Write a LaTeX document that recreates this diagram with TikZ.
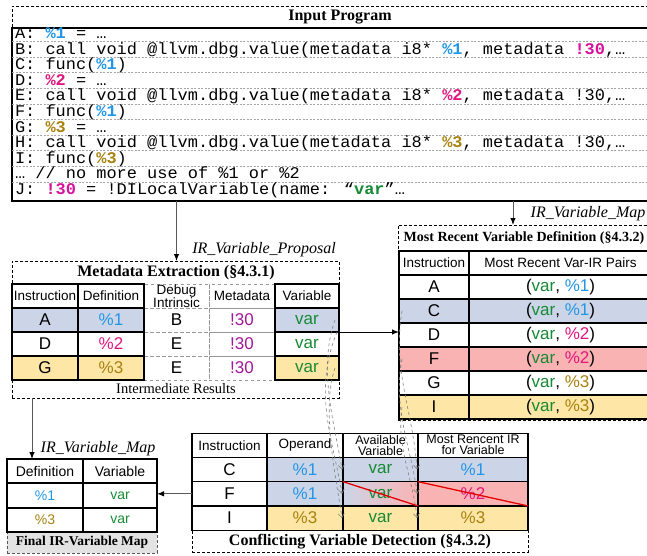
\documentclass[tikz,border=0pt]{standalone}
\usepackage{fontspec}
\setmainfont{Liberation Serif}
\setsansfont{Liberation Sans}
\newfontfamily\codefont[FakeStretch=1.04]{Liberation Mono}
\usetikzlibrary{arrows.meta}

\definecolor{defone}{HTML}{2196E6}
\definecolor{deftwo}{HTML}{E2167F}
\definecolor{defthree}{HTML}{A8820E}
\definecolor{mdpurple}{HTML}{A6159C}
\definecolor{mdpink}{HTML}{D4129C}
\definecolor{vargreen}{HTML}{168A34}
\definecolor{rowblue}{HTML}{CBD5E7}
\definecolor{rowyellow}{HTML}{FEE6A7}
\definecolor{rowred}{HTML}{FAB3B3}

\newcommand{\pone}{\textcolor{defone}{\%1}}
\newcommand{\ptwo}{\textcolor{deftwo}{\%2}}
\newcommand{\pthree}{\textcolor{defthree}{\%3}}
\newcommand{\mdref}{\textcolor{mdpurple}{!30}}
\newcommand{\varword}{\textcolor{vargreen}{var}}
\newcommand{\cone}{\textcolor{defone}{\textbf{\%1}}}
\newcommand{\ctwo}{\textcolor{deftwo}{\textbf{\%2}}}
\newcommand{\cthree}{\textcolor{defthree}{\textbf{\%3}}}
\newcommand{\cmdref}{\textcolor{mdpink}{\textbf{!30}}}

\begin{document}
\begin{tikzpicture}[x=1pt, y=-1pt,
  every node/.style={inner sep=0pt, outer sep=0pt},
  cell/.style={draw, line width=1.1pt, minimum height=24, font=\sffamily\fontsize{17}{17}\selectfont},
  headcell/.style={cell, font=\sffamily\fontsize{13.5}{10.5}\selectfont, align=center},
  twohead/.style={cell, font=\sffamily\fontsize{12.5}{11}\selectfont, align=center},
  dashcell/.style={draw=gray!80, dashed, line width=0.6pt, minimum height=24, font=\sffamily\fontsize{17}{17}\selectfont, align=center},
  smallcell/.style={cell, font=\sffamily\fontsize{14}{14}\selectfont},
  groupbox/.style={draw, line width=0.9pt, dash pattern=on 3pt off 2pt},
  boxtitle/.style={font=\bfseries\fontsize{16}{16}\selectfont},
  flowlabel/.style={font=\itshape\fontsize{16}{16}\selectfont},
  codeline/.style={anchor=base west, font=\codefont\fontsize{16.3}{16.3}\selectfont},
  sepline/.style={draw=gray!70, line width=0.5pt, dash pattern=on 2pt off 1.5pt},
  flow/.style={draw=black!65, line width=1pt, -{Latex[length=7pt,width=5.5pt,color=black]}},
  trace/.style={draw=gray, dashed, line width=0.6pt, -{Straight Barb[length=4pt,width=6pt]}},
  conflict/.style={draw=red!90!black, line width=1.3pt}]
\useasboundingbox (0,0) rectangle (647,556);

% input program
\node[groupbox, minimum width=656, minimum height=195, anchor=north west] (in-box) at (12,6) {};
\node[draw, line width=1.1pt, minimum width=656, minimum height=173, anchor=north west] (codebox) at (12,28) {};
\node[boxtitle] (in-title) at (340,17) {Input Program};
\foreach \k in {0,...,9}
  \draw[sepline] (12,41.5+15.6*\k) -- (668,41.5+15.6*\k);
\node[codeline] (ln-a) at (15,38.5) {A: \cone{} = …};
\node[codeline] (ln-b) at (15,54.1) {B: call void @llvm.dbg.value(metadata i8* \cone, metadata \cmdref,…};
\node[codeline] (ln-c) at (15,69.7) {C: func(\cone)};
\node[codeline] (ln-d) at (15,85.3) {D: \ctwo{} = …};
\node[codeline] (ln-e) at (15,100.9) {E: call void @llvm.dbg.value(metadata i8* \ctwo, metadata !30,…};
\node[codeline] (ln-f) at (15,116.5) {F: func(\cone)};
\node[codeline] (ln-g) at (15,132.1) {G: \cthree{} = …};
\node[codeline] (ln-h) at (15,147.7) {H: call void @llvm.dbg.value(metadata i8* \cthree, metadata !30,…};
\node[codeline] (ln-i) at (15,163.3) {I: func(\cthree)};
\node[codeline] (ln-x) at (15,178.9) {… // no more use of \%1 or \%2};
\node[codeline] (ln-j) at (15,194.5) {J: \cmdref{} = !DILocalVariable(name: “\textcolor{vargreen}{\textbf{var}}”…};

% metadata extraction
\node[groupbox, minimum width=327, minimum height=137, anchor=north west] (me-box) at (12,261) {};
\node[boxtitle] (me-title) at (176,273) {Metadata Extraction (§4.3.1)};
\node[dashcell, font=\sffamily\fontsize{13.5}{10}\selectfont, minimum width=65] (me-h3) at (176.5,296) {Debug\\Intrinsic};
\node[dashcell, font=\sffamily\fontsize{13.5}{10.5}\selectfont, minimum width=66] (me-h4) at (242,296) {Metadata};
\node[headcell, minimum width=66] (me-h1) at (45,296) {Instruction};
\node[headcell, minimum width=66] (me-h2) at (111,296) {Definition};
\node[headcell, minimum width=64] (me-h5) at (307,296) {Variable};
\foreach \r/\yy/\ins/\dfn/\dbg/\fc in {1/320/A/\pone/B/rowblue, 2/344/D/\ptwo/E/white, 3/368/G/\pthree/E/rowyellow} {
  \node[dashcell, minimum width=65] (me-dbg-\r) at (176.5,\yy) {\dbg};
  \node[dashcell, minimum width=66] (me-md-\r) at (242,\yy) {\mdref};
  \node[cell, fill=\fc, minimum width=66] (me-ins-\r) at (45,\yy) {\ins};
  \node[cell, fill=\fc, minimum width=66] (me-def-\r) at (111,\yy) {\dfn};
  \node[cell, fill=\fc, minimum width=64] (me-var-\r) at (307,\yy) {\varword};
}
\node[font=\fontsize{14.5}{14.5}\selectfont] (me-note) at (176,389) {Intermediate Results};

% most recent variable definition
\node[groupbox, minimum width=262, minimum height=195, anchor=north west] (mr-box) at (398,225) {};
\node[font=\bfseries\fontsize{14}{14}\selectfont] (mr-title) at (524,238) {Most Recent Variable Definition (§4.3.2)};
\node[headcell, minimum width=70] (mr-h1) at (434,263) {Instruction};
\node[headcell, minimum width=183] (mr-h2) at (560.5,263) {Most Recent Var-IR Pairs};
\foreach \r/\yy/\ins/\dfn/\fc in {1/287/A/\pone/white, 2/311/C/\pone/rowblue, 3/335/D/\ptwo/white, 4/359/F/\ptwo/rowred, 5/383/G/\pthree/white, 6/407/I/\pthree/rowyellow} {
  \node[cell, fill=\fc, minimum width=70] (mr-ins-\r) at (434,\yy) {\ins};
  \node[cell, fill=\fc, minimum width=183] (mr-pair-\r) at (560.5,\yy) {(\varword, \dfn)};
}

% conflicting variable detection
\node[groupbox, boxtitle, minimum width=336, minimum height=22] (cv-box) at (360,541.2) {Conflicting Variable Detection (§4.3.2)};
\node[headcell, minimum width=75, minimum height=24.3] (cv-h1) at (229.5,445.2) {Instruction};
\node[headcell, minimum width=76, minimum height=24.3] (cv-h2) at (305,445.2) {Operand};
\node[twohead, minimum width=75, minimum height=24.3] (cv-h3) at (380.5,445.2) {Available\\Variable};
\node[twohead, minimum width=110, minimum height=24.3] (cv-h4) at (473,445.2) {Most Rencent IR\\for Variable};
\node[cell, minimum width=75, minimum height=24.3] (cv-ins-1) at (229.5,469.5) {C};
\node[cell, fill=rowblue, minimum width=76, minimum height=24.3] (cv-op-1) at (305,469.5) {\pone};
\node[cell, fill=rowblue, minimum width=75, minimum height=24.3] (cv-av-1) at (380.5,469.5) {\varword};
\node[cell, fill=rowblue, minimum width=110, minimum height=24.3] (cv-mr-1) at (473,469.5) {\pone};
\node[cell, minimum width=75, minimum height=24.3] (cv-ins-2) at (229.5,493.8) {F};
\node[cell, fill=rowblue, minimum width=76, minimum height=24.3] (cv-op-2) at (305,493.8) {\pone};
\node[cell, left color=rowblue, right color=rowred, minimum width=75, minimum height=24.3] (cv-av-2) at (380.5,493.8) {\varword};
\node[cell, fill=rowred, minimum width=110, minimum height=24.3] (cv-mr-2) at (473,493.8) {\ptwo};
\node[cell, minimum width=75, minimum height=24.3] (cv-ins-3) at (229.5,518.1) {I};
\node[cell, fill=rowyellow, minimum width=76, minimum height=24.3] (cv-op-3) at (305,518.1) {\pthree};
\node[cell, fill=rowyellow, minimum width=75, minimum height=24.3] (cv-av-3) at (380.5,518.1) {\varword};
\node[cell, fill=rowyellow, minimum width=110, minimum height=24.3] (cv-mr-3) at (473,518.1) {\pthree};
\draw[conflict] (cv-av-2.north west) -- (cv-av-2.south east);
\draw[conflict] (cv-mr-2.north west) -- (cv-mr-2.south east);

% final map
\node[groupbox, draw=gray!70!black, fill=gray!22, font=\bfseries\fontsize{13.5}{13.5}\selectfont, minimum width=150, minimum height=21] (fm-cap) at (82,542.5) {Final IR-Variable Map};
\node[smallcell, minimum width=76] (fm-h1) at (45,471) {Definition};
\node[smallcell, minimum width=74] (fm-h2) at (120,471) {Variable};
\node[smallcell, minimum width=76, minimum height=25] (fm-def-1) at (45,495.5) {\pone};
\node[smallcell, minimum width=74, minimum height=25] (fm-var-1) at (120,495.5) {\varword};
\node[smallcell, minimum width=76] (fm-def-2) at (45,520) {\pthree};
\node[smallcell, minimum width=74] (fm-var-2) at (120,520) {\varword};

% flows
\coordinate (maptap) at ([xshift=115]mr-box.north west);
\coordinate (finaltap) at ([xshift=-13]fm-h1.north);
\draw[flow] (codebox.south -| me-h3.north) -- (me-box.north -| me-h3.north);
\draw[flow] (codebox.south -| maptap) -- (maptap);
\draw[flow, draw=black] (me-var-2.north east) -- (me-var-2.north east -| mr-ins-3.west);
\draw[flow] (me-box.south -| finaltap) -- (finaltap);
\draw[flow] (cv-ins-2.west) -- (cv-ins-2.west -| fm-h2.east);
\node[flowlabel] (lbl-prop) at (264,250) {IR\_Variable\_Proposal};
\node[flowlabel] (lbl-map) at (588,214) {IR\_Variable\_Map};
\node[flowlabel] (lbl-final) at (98,449) {IR\_Variable\_Map};

% traces into the detection table
\draw[trace] ([xshift=-4]me-var-1.east) .. controls +(-18,50) and +(-6,-40) .. ([xshift=-1]cv-av-1.west);
\draw[trace] ([xshift=-2]me-var-1.south east) .. controls +(-25,60) and +(-8,-50) .. ([xshift=-1]cv-av-2.west);
\draw[trace] ([xshift=-4]me-var-3.east) .. controls +(-14,40) and +(-6,-40) .. ([xshift=-1]cv-av-3.west);
\draw[trace] ([xshift=3]mr-ins-2.west) .. controls +(-10,60) and +(-4,-60) .. ([xshift=-1]cv-mr-1.west);
\draw[trace] ([xshift=3]mr-ins-4.west) .. controls +(-10,50) and +(-4,-40) .. ([xshift=-1]cv-mr-2.west);
\draw[trace] ([xshift=3]mr-ins-6.west) .. controls +(-6,40) and +(-4,-40) .. ([xshift=-1]cv-mr-3.west);
\end{tikzpicture}
\end{document}
